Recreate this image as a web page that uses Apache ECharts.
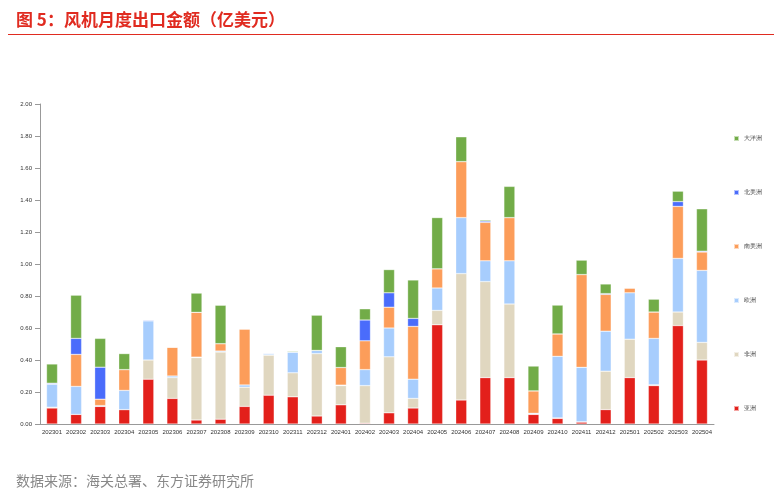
<!DOCTYPE html>
<html>
<head>
<meta charset="utf-8">
<script src="https://cdn.jsdelivr.net/npm/echarts@6/dist/echarts.min.js"></script>
<style>
body{margin:0;background:#fff;font-family:"Noto Sans CJK SC",sans-serif;}
#title{position:absolute;left:16px;top:6px;font-size:17px;font-weight:bold;color:#e02b20;}
#line1{position:absolute;left:8px;right:8px;top:34px;border-top:1px solid #e02b20;}
#src{position:absolute;left:16px;top:470px;font-size:14px;color:#888;}
#main{position:absolute;left:0;top:0;width:782px;height:498px;}
</style>
</head>
<body>
<div id="main"></div>
<div id="title">图 5：风机月度出口金额（亿美元）</div>
<div id="line1"></div>
<div id="src">数据来源：海关总署、东方证券研究所</div>
<script>
var months = ['202301','202302','202303','202304','202305','202306','202307','202308','202309','202310','202311','202312',
    '202401','202402','202403','202404','202405','202406','202407','202408','202409','202410','202411','202412',
    '202501','202502','202503','202504'];
var asia     = [0.10,0.06,0.11,0.09,0.28,0.16,0.025,0.03,0.11,0.18,0.17,0.05,0.12,0.005,0.07,0.10,0.62,0.15,0.29,0.29,0.06,0.035,0.012,0.09,0.29,0.24,0.615,0.40];
var africa   = [0.005,0,0,0,0.12,0.13,0.39,0.42,0.12,0.25,0.15,0.39,0.12,0.235,0.35,0.06,0.09,0.79,0.60,0.46,0.002,0.003,0.002,0.24,0.24,0.005,0.085,0.11];
var europe   = [0.145,0.175,0.005,0.12,0.245,0.01,0.003,0.006,0.014,0.008,0.13,0.02,0.003,0.10,0.18,0.12,0.14,0.35,0.13,0.27,0.005,0.385,0.34,0.25,0.29,0.29,0.335,0.45];
var samerica = [0,0.20,0.04,0.13,0,0.18,0.28,0.046,0.35,0,0,0,0.11,0.18,0.13,0.33,0.12,0.35,0.24,0.27,0.14,0.14,0.58,0.23,0.03,0.165,0.325,0.115];
var namerica = [0.005,0.10,0.20,0,0.005,0,0,0,0,0.004,0,0,0,0.13,0.09,0.05,0,0,0.008,0,0,0,0,0.005,0,0,0.03,0.005];
var oceania  = [0.12,0.27,0.18,0.10,0,0,0.12,0.24,0,0.003,0.005,0.22,0.13,0.07,0.145,0.24,0.32,0.155,0.007,0.195,0.155,0.18,0.09,0.06,0,0.08,0.065,0.265];
var yTicks = ['0.00','0.20','0.40','0.60','0.80','1.00','1.20','1.40','1.60','1.80','2.00'];

function mk(name, data, color) {
    return {name: name, type: 'bar', stack: 'total', barWidth: 11, data: data,
        itemStyle: {color: color, borderColor: 'rgba(255,255,255,0.6)', borderWidth: 0.5}};
}
var chart = echarts.init(document.getElementById('main'));
chart.setOption({
    animation: false,
    grid: {left: 40, right: 68, top: 104, bottom: 74},
    legend: {
        orient: 'vertical', left: 728, top: 130, itemGap: 47,
        itemWidth: 5, itemHeight: 5, icon: 'rect',
        textStyle: {fontSize: 6, color: '#444'},
        data: ['大洋洲','北美洲','南美洲','欧洲','非洲','亚洲']
    },
    xAxis: {
        type: 'category', data: months,
        axisLine: {lineStyle: {color: '#999'}},
        axisTick: {lineStyle: {color: '#999'}},
        axisLabel: {fontSize: 6, color: '#333', interval: 0, margin: 5}
    },
    yAxis: {
        type: 'value', min: 0, max: 2, interval: 0.2,
        splitLine: {show: false},
        axisLine: {show: true, lineStyle: {color: '#999'}},
        axisTick: {show: true, lineStyle: {color: '#999'}},
        axisLabel: {fontSize: 6, color: '#333', formatter: function (v) {
            return yTicks[Math.round(v / 0.2)];
        }}
    },
    series: [
        mk('亚洲', asia, '#e3201b'),
        mk('非洲', africa, '#e0d7c0'),
        mk('欧洲', europe, '#a7cdfd'),
        mk('南美洲', samerica, '#fc9d5a'),
        mk('北美洲', namerica, '#4a6cfb'),
        mk('大洋洲', oceania, '#72ac48')
    ]
});
</script>
</body>
</html>
